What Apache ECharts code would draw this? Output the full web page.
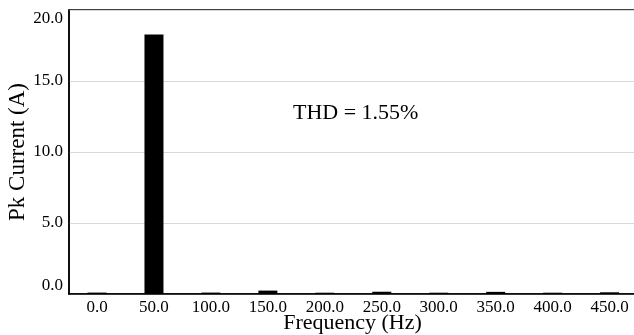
<!DOCTYPE html>
<html>
<head>
<meta charset="utf-8">
<script src="https://cdn.jsdelivr.net/npm/echarts@6/dist/echarts.min.js"></script>
<style>
  html, body { margin: 0; padding: 0; background: #fff; }
  #chart { width: 634px; height: 335px; }
</style>
</head>
<body>
<div id="chart"></div>
<script>
// Harmonic spectrum of the phase current
const frequencies = [0, 50, 100, 150, 200, 250, 300, 350, 400, 450];
const pkCurrent = [0.1, 18.27, 0.1, 0.24, 0.09, 0.16, 0.09, 0.15, 0.09, 0.12];
const xTicks = [0, 50, 100, 150, 200, 250, 300, 350, 400, 450];
const thdText = 'THD = 1.55%';

const serif = '"Liberation Serif", "DejaVu Serif", serif';
const chart = echarts.init(document.getElementById('chart'), null, { renderer: 'canvas' });

chart.setOption({
  animation: false,
  backgroundColor: '#ffffff',
  grid: {
    left: 69, right: -2, top: 10, bottom: 41,
    outerBoundsMode: 'none',
    containLabel: false,
    show: true, borderColor: '#000', borderWidth: 1.5, backgroundColor: 'transparent'
  },
  xAxis: {
    type: 'value',
    min: -24.6,
    max: 473.2,
    name: 'Frequency (Hz)',
    nameLocation: 'middle',
    nameGap: 18,
    nameMoveOverlap: false,
    nameTextStyle: { fontFamily: serif, fontSize: 22, color: '#000' },
    axisLine: { show: true, onZero: false, lineStyle: { color: '#000', width: 1.5 } },
    axisTick: { show: false },
    splitLine: { show: false },
    axisLabel: {
      customValues: xTicks,
      formatter: v => v.toFixed(1),
      fontFamily: serif, fontSize: 17, color: '#000', margin: 5
    }
  },
  yAxis: {
    type: 'value',
    min: 0, max: 20, interval: 5,
    name: 'Pk Current (A)',
    nameLocation: 'middle',
    nameRotate: 90,
    nameGap: 40,
    nameMoveOverlap: false,
    nameTextStyle: { fontFamily: serif, fontSize: 23, color: '#000' },
    axisLine: { show: true, onZero: false, lineStyle: { color: '#000', width: 1.5 } },
    axisTick: { show: false },
    splitLine: { show: true, lineStyle: { color: '#d9d9d9', width: 1 } },
    axisLabel: {
      formatter: v => v.toFixed(1),
      fontFamily: serif, fontSize: 17, color: '#000', margin: 6,
      verticalAlignMaxLabel: 'top',
      verticalAlignMinLabel: 'bottom'
    }
  },
  series: [{
    type: 'bar',
    data: frequencies.map((f, i) => [f, pkCurrent[i]]),
    barWidth: 19,
    itemStyle: { color: '#000' }
  }],
  graphic: [{
    type: 'text',
    left: 293,
    top: 102,
    style: { text: thdText, font: '22px ' + serif, fill: '#000' }
  }]
});
</script>
</body>
</html>
